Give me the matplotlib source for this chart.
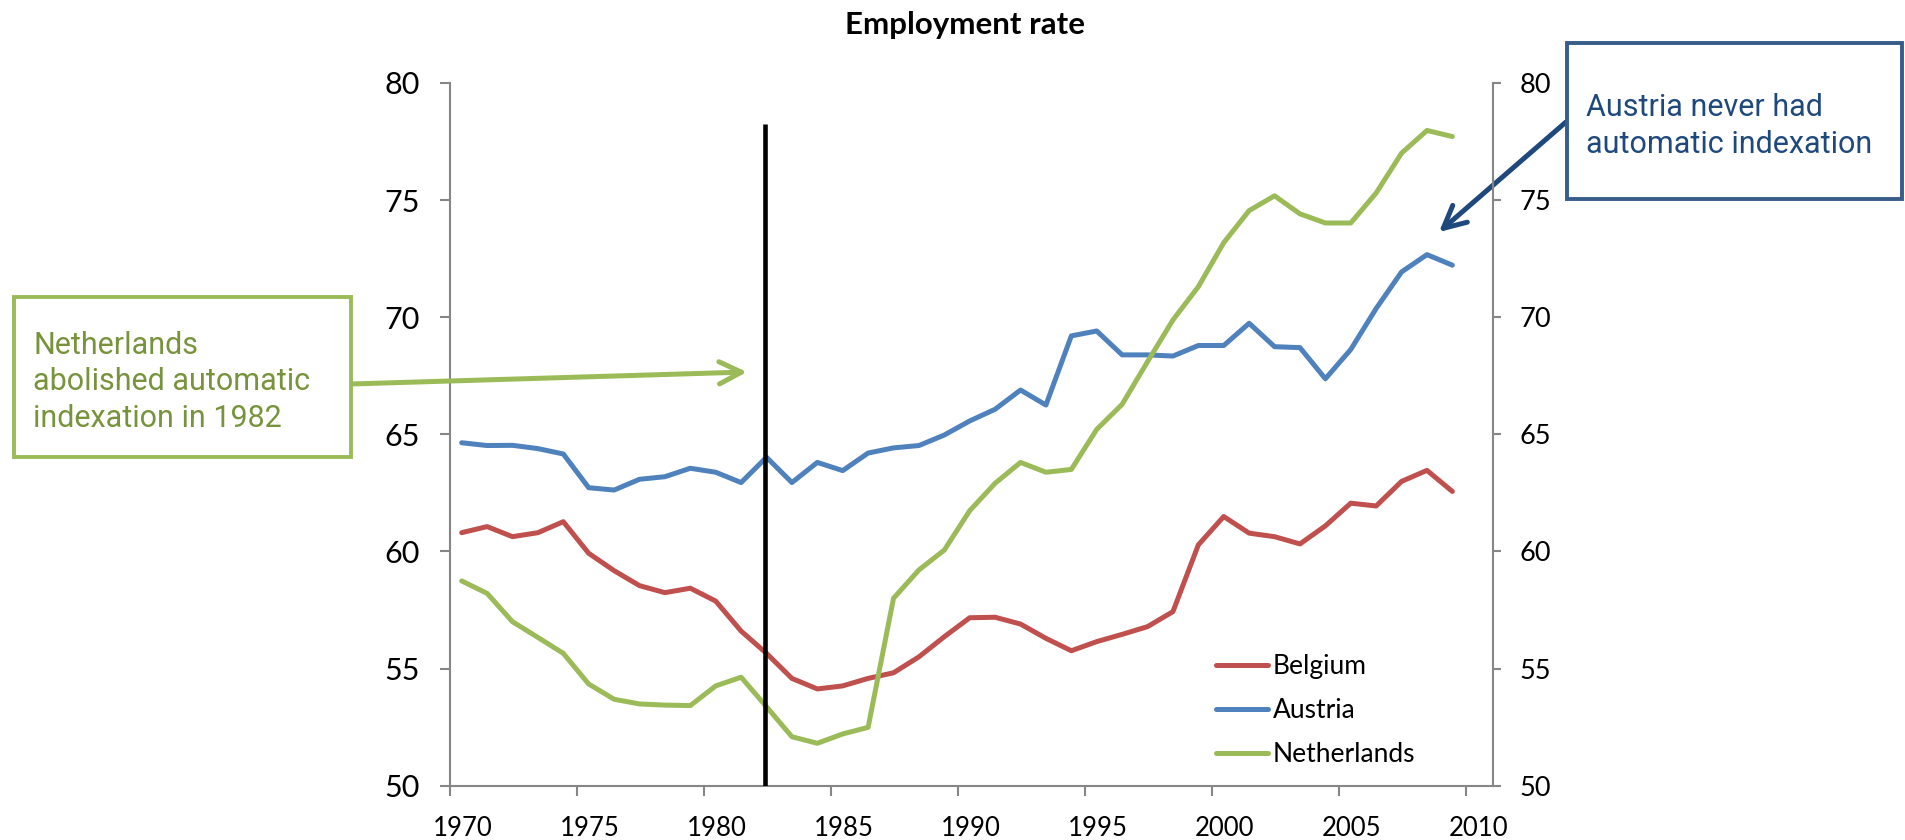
import matplotlib.pyplot as plt
from matplotlib.patches import Rectangle
import numpy as np

# employment rate, 1970-2009
years = np.arange(1970, 2010)
belgium = [60.80, 61.06, 60.63, 60.80, 61.27, 59.92, 59.18, 58.54, 58.24, 58.43,
           57.88, 56.60, 55.65, 54.58, 54.13, 54.26, 54.58, 54.82, 55.50, 56.36,
           57.17, 57.19, 56.90, 56.29, 55.76, 56.15, 56.46, 56.79, 57.43, 60.28,
           61.49, 60.78, 60.63, 60.32, 61.09, 62.06, 61.94, 62.99, 63.46, 62.56]
austria = [64.64, 64.52, 64.53, 64.39, 64.16, 62.72, 62.62, 63.08, 63.19, 63.55,
           63.38, 62.94, 64.02, 62.94, 63.80, 63.45, 64.20, 64.42, 64.52, 64.97,
           65.57, 66.07, 66.89, 66.25, 69.20, 69.41, 68.39, 68.39, 68.34, 68.79,
           68.79, 69.74, 68.74, 68.70, 67.37, 68.62, 70.37, 71.93, 72.67, 72.22]
netherlands = [58.74, 58.21, 57.00, 56.33, 55.65, 54.34, 53.69, 53.49, 53.44, 53.42,
               54.26, 54.63, 53.37, 52.09, 51.81, 52.21, 52.49, 58.00, 59.21, 60.06,
               61.74, 62.91, 63.80, 63.38, 63.50, 65.21, 66.28, 68.10, 69.88, 71.30,
               73.18, 74.55, 75.18, 74.41, 74.02, 74.02, 75.30, 77.00, 77.97, 77.71]
names = ['Belgium', 'Austria', 'Netherlands']
colors = ['#C0504D', '#4F81BD', '#9BBB59']
tick_years = list(range(1970, 2011, 5))

reform_year = 1982.42
reform_top = 78.25

plt.rcParams['font.family'] = ['Lato', 'DejaVu Sans']
W, H = 1906, 840
fig = plt.figure(figsize=(W / 100, H / 100), dpi=100)
ax = fig.add_axes([450 / W, 1 - 785.7 / H, (1493 - 450) / W, (785.7 - 82.9) / H])

x = years + 0.46
for vals, name, c in zip([belgium, austria, netherlands], names, colors):
    ax.plot(x, vals, color=c, lw=3.6, label=name, solid_capstyle='round')

ax.vlines(reform_year, 50, reform_top, color='black', lw=3.3, zorder=5)

ax.set_xlim(1970, 2011.06)
ax.set_ylim(50, 80)
# ticks at year start, labels in the middle of the year
ax.set_xticks(tick_years)
ax.set_xticklabels([])
ax.set_xticks([t + 0.5 for t in tick_years], [str(t) for t in tick_years], minor=True)
ax.set_yticks(range(50, 81, 5))

ax2 = ax.twinx()
ax2.set_ylim(50, 80)
ax2.set_yticks(range(50, 81, 5))

grey = '#868686'
for a in (ax, ax2):
    for s in a.spines.values():
        s.set_color(grey)
        s.set_linewidth(1.5)
ax.spines['top'].set_visible(False)
ax.spines['right'].set_visible(False)
for s in ('top', 'left', 'bottom'):
    ax2.spines[s].set_visible(False)

ax.tick_params(axis='y', direction='out', length=7.5, width=1.5, color=grey, labelsize=22, pad=14)
ax.tick_params(axis='x', which='major', direction='out', length=7.5, width=1.5, color=grey)
ax.tick_params(axis='x', which='minor', length=0, labelsize=18.5, pad=22)
ax2.tick_params(axis='y', direction='out', length=6, width=1.5, color=grey, labelsize=19.5, pad=13)

ax.legend(loc='upper left', bbox_to_anchor=(1216 / W, 1 - 654 / H), bbox_transform=fig.transFigure,
          frameon=False, fontsize=19, handlelength=1.97, handletextpad=0.19,
          labelspacing=0.72, borderpad=0, borderaxespad=0)

fig.text(965 / W, 1 - 34 / H, 'Employment rate', ha='center', va='baseline',
         fontsize=22.5, fontweight='bold')

# Netherlands note
fig.add_artist(Rectangle((14 / W, 1 - 457 / H), (351 - 14) / W, (457 - 297) / H,
                         transform=fig.transFigure, facecolor='white',
                         edgecolor='#9BBB59', lw=2.8, zorder=10))
fig.text(33 / W, 1 - 382 / H, 'Netherlands\nabolished automatic\nindexation in 1982',
         ha='left', va='center', color='#77933C', fontsize=22, linespacing=1.33,
         family='Roboto', zorder=11)
ax.annotate('', xy=(747, H - 372), xycoords='figure pixels',
            xytext=(351, H - 384), textcoords='figure pixels',
            arrowprops=dict(arrowstyle='->', color='#9BBB59', lw=3.6, mutation_scale=40,
                            shrinkA=0, shrinkB=0), zorder=12)

# Austria note
fig.add_artist(Rectangle((1567 / W, 1 - 199 / H), (1902 - 1567) / W, (199 - 43) / H,
                         transform=fig.transFigure, facecolor='white',
                         edgecolor='#385D8A', lw=2.8, zorder=10))
fig.text(1586 / W, 1 - 126 / H, 'Austria never had\nautomatic indexation',
         ha='left', va='center', color='#1F497D', fontsize=22, linespacing=1.33,
         family='Roboto', zorder=11)
ax.annotate('', xy=(1439, H - 232), xycoords='figure pixels',
            xytext=(1566, H - 122), textcoords='figure pixels',
            arrowprops=dict(arrowstyle='->', color='#1F497D', lw=3.6, mutation_scale=40,
                            shrinkA=0, shrinkB=0), zorder=12)

fig.savefig('out.png', dpi=100)
